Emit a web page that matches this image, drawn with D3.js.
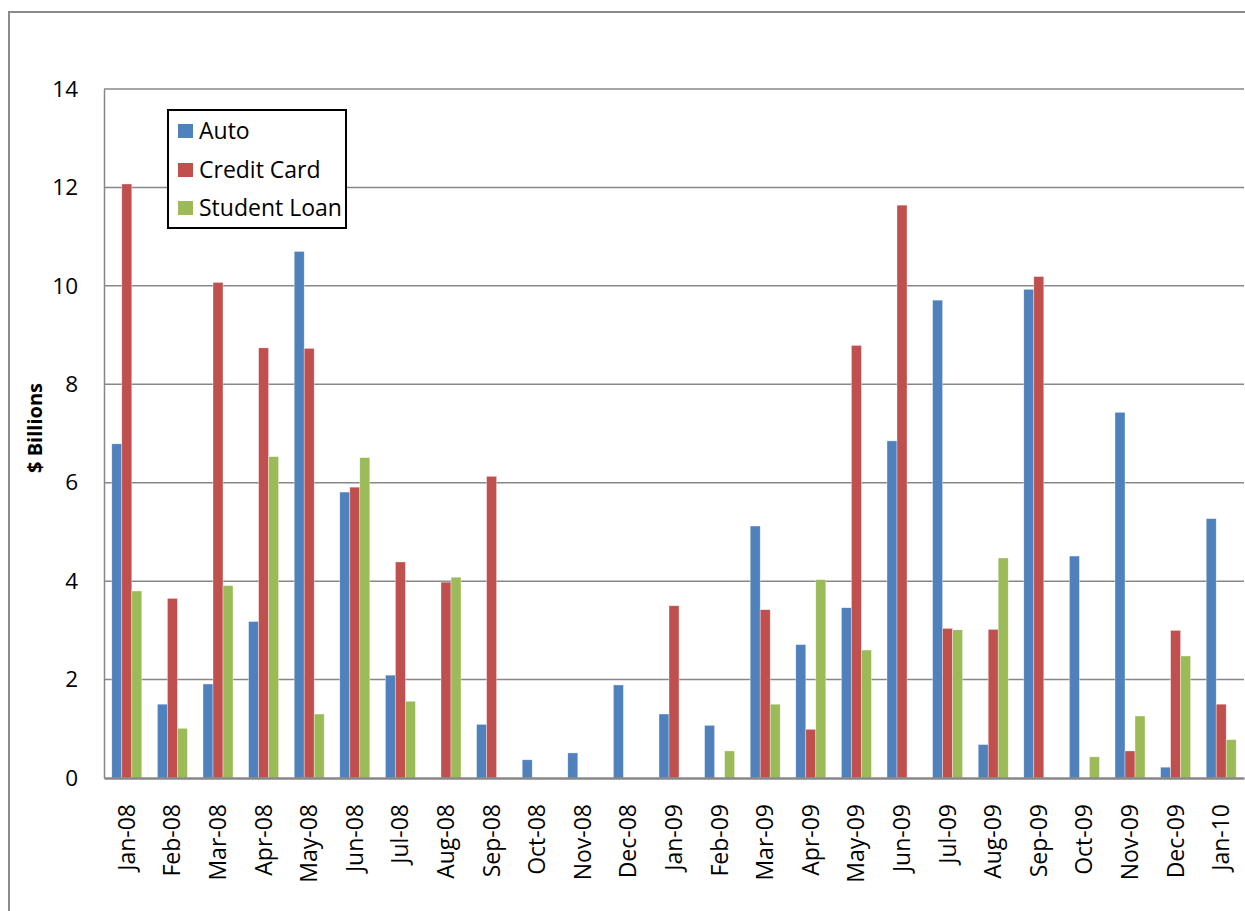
<!DOCTYPE html>
<html>
<head>
<meta charset="utf-8">
<script src="https://cdn.jsdelivr.net/npm/d3@7"></script>
<style>
  html, body { margin: 0; padding: 0; background: #fff; overflow: hidden; }
  svg { display: block; }
</style>
</head>
<body>
<svg id="chart" width="1245" height="911"></svg>
<script>
const categories = ["Jan-08","Feb-08","Mar-08","Apr-08","May-08","Jun-08","Jul-08","Aug-08","Sep-08","Oct-08","Nov-08","Dec-08",
  "Jan-09","Feb-09","Mar-09","Apr-09","May-09","Jun-09","Jul-09","Aug-09","Sep-09","Oct-09","Nov-09","Dec-09","Jan-10"];
const seriesNames = ["Auto", "Credit Card", "Student Loan"];
const autoValues = [6.79, 1.50, 1.91, 3.18, 10.70, 5.81, 2.09, null, 1.09, 0.37, 0.51, 1.89,
  1.30, 1.07, 5.12, 2.71, 3.46, 6.85, 9.71, 0.68, 9.93, 4.51, 7.43, 0.22, 5.27];
const creditCardValues = [12.07, 3.65, 10.07, 8.74, 8.73, 5.91, 4.39, 3.98, 6.13, null, null, null,
  3.50, null, 3.42, 0.99, 8.79, 11.64, 3.04, 3.02, 10.19, null, 0.55, 3.00, 1.50];
const studentLoanValues = [3.80, 1.01, 3.91, 6.53, 1.30, 6.51, 1.56, 4.08, null, null, null, null,
  null, 0.55, 1.50, 4.03, 2.60, null, 3.01, 4.47, null, 0.43, 1.26, 2.48, 0.78];
const yTicks = [0, 2, 4, 6, 8, 10, 12, 14];
const yTitle = "$ Billions";

const seriesValues = [autoValues, creditCardValues, studentLoanValues];
const colors = ["#4F81BD", "#C0504D", "#9BBB59"];
const FONT = "'Open Sans', 'Noto Sans', sans-serif";

const svg = d3.select("#chart");
const plot = { left: 104, top: 89, right: 1244, bottom: 778 };

// outer frame (cropped chart area border)
svg.append("path")
  .attr("d", "M9,920 L9,12 L1260,12")
  .attr("fill", "none").attr("stroke", "#8a8a8a").attr("stroke-width", 2);

const x0 = d3.scaleBand().domain(categories).range([plot.left, plot.right]).padding(0);
const bw = x0.bandwidth();
const x1 = d3.scaleBand().domain(seriesNames).range([bw * 0.171, bw * 0.829]).padding(0);
const y = d3.scaleLinear().domain([0, 14]).range([plot.bottom, plot.top]);

// gridlines
svg.append("g").selectAll("line").data(yTicks.filter(d => d > 0)).join("line")
  .attr("x1", plot.left).attr("x2", plot.right)
  .attr("y1", d => y(d)).attr("y2", d => y(d))
  .attr("stroke", "#878787").attr("stroke-width", 1.5);

// y-axis
const yAxis = d3.axisLeft(y).tickValues(yTicks).tickSize(0).tickPadding(26);
const gy = svg.append("g").attr("transform", `translate(${plot.left},0)`).call(yAxis);
gy.select(".domain").attr("stroke", "#878787").attr("stroke-width", 1.5);
gy.selectAll("text").attr("font-family", FONT).attr("font-size", 22.5).attr("fill", "#000");

// bars
const data = categories.map((c, i) => ({ cat: c, vals: seriesNames.map((s, j) => ({ s, j, v: seriesValues[j][i] })) }));
const groups = svg.append("g").selectAll("g").data(data).join("g")
  .attr("transform", d => `translate(${x0(d.cat)},0)`);
groups.selectAll("rect").data(d => d.vals.filter(v => v.v != null)).join("rect")
  .attr("x", d => x1(d.s))
  .attr("width", x1.bandwidth())
  .attr("y", d => y(d.v))
  .attr("height", d => y(0) - y(d.v))
  .attr("fill", d => colors[d.j])
  .attr("stroke", "#ffffff").attr("stroke-opacity", 0.6).attr("stroke-width", 0.6);

// x-axis
const xAxis = d3.axisBottom(x0).tickSize(0).tickPadding(0);
const gx = svg.append("g").attr("transform", `translate(0,${plot.bottom})`).call(xAxis);
gx.select(".domain").attr("stroke", "#878787").attr("stroke-width", 2.5);
gx.selectAll("text")
  .attr("font-family", FONT).attr("font-size", 23).attr("fill", "#000")
  .attr("text-anchor", "end")
  .attr("transform", "rotate(-90)")
  .attr("x", -26).attr("y", 0).attr("dy", "0.35em");

// y title
svg.append("text")
  .attr("transform", "translate(35,428) rotate(-90)")
  .attr("text-anchor", "middle").attr("dy", "0.35em")
  .attr("font-family", FONT).attr("font-size", 20).attr("font-weight", "bold")
  .text(yTitle);

// legend
const legend = svg.append("g");
legend.append("rect")
  .attr("x", 168).attr("y", 110).attr("width", 178).attr("height", 118)
  .attr("fill", "#fff").attr("stroke", "#000").attr("stroke-width", 2);
const rowY = [131, 170, 208];
seriesNames.forEach((s, i) => {
  legend.append("rect").attr("x", 178).attr("y", rowY[i] - 7).attr("width", 15).attr("height", 14).attr("fill", colors[i]);
  legend.append("text").attr("x", 199).attr("y", rowY[i]).attr("dy", "0.35em")
    .attr("font-family", FONT).attr("font-size", 23).attr("fill", "#000").text(s);
});
</script>
</body>
</html>
